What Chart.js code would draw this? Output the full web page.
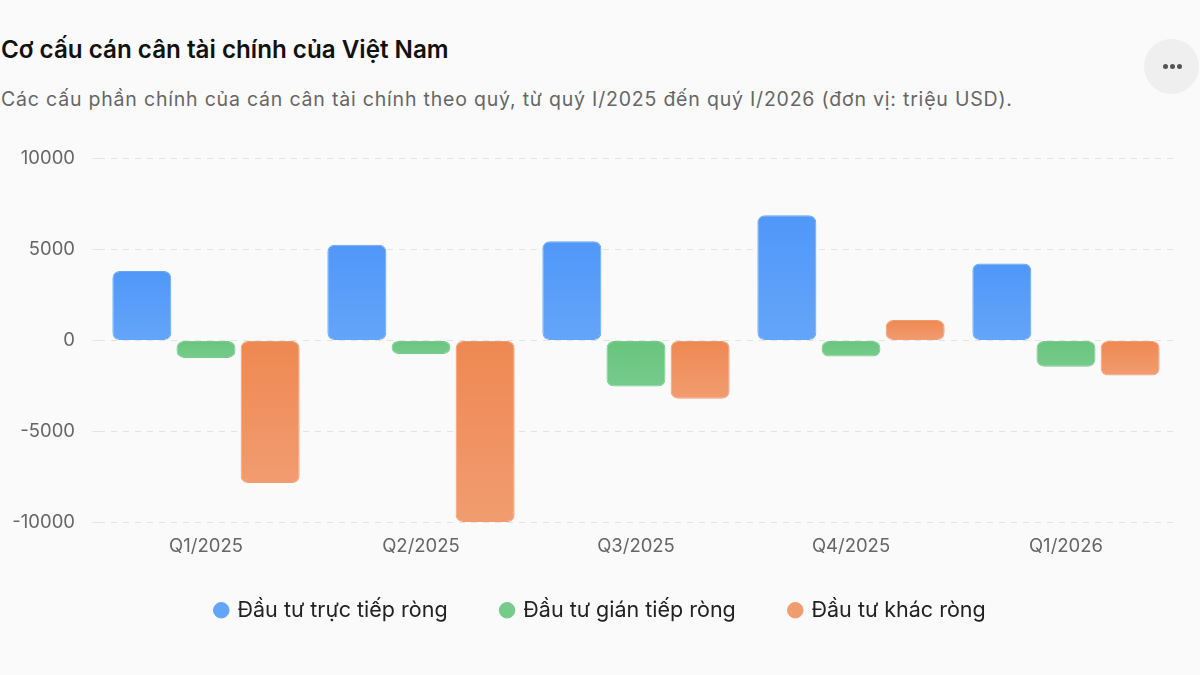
<!DOCTYPE html>
<html>
<head>
<meta charset="utf-8">
<script src="https://cdn.jsdelivr.net/npm/chart.js@4"></script>
<style>
  html, body { margin:0; padding:0; background:#fafafa; width:1200px; height:675px; overflow:hidden; font-family: Inter, "Noto Sans", sans-serif; }
  #title { position:absolute; left:1px; top:35px; font-size:24.2px; font-weight:600; color:#111; white-space:nowrap; }
  #subtitle { position:absolute; left:1px; top:87px; font-size:19.5px; color:#666; letter-spacing:0.8px; white-space:nowrap; }
  #more { position:absolute; left:1144px; top:39px; width:55px; height:55px; border-radius:50%; background:#efefef; }
  #more span { position:absolute; top:25px; width:5px; height:5px; border-radius:50%; background:#555; }
  #wrap { position:absolute; left:0; top:130px; width:1200px; height:526px; }
</style>
</head>
<body>
<div id="title">Cơ cấu cán cân tài chính của Việt Nam</div>
<div id="subtitle">Các cấu phần chính của cán cân tài chính theo quý, từ quý I/2025 đến quý I/2026 (đơn vị: triệu USD).</div>
<div id="more"><span style="left:19px"></span><span style="left:26px"></span><span style="left:33px"></span></div>
<div id="wrap"><canvas id="c"></canvas></div>
<script>
const categories = ["Q1/2025", "Q2/2025", "Q3/2025", "Q4/2025", "Q1/2026"];
const seriesNames = ["Đầu tư trực tiếp ròng", "Đầu tư gián tiếp ròng", "Đầu tư khác ròng"];
const fdiNet = [3820, 5260, 5450, 6880, 4230];
const portfolioNet = [-960, -740, -2530, -880, -1440];
const otherNet = [-7840, -9990, -3200, 1120, -1930];
const yTicks = [-10000, -5000, 0, 5000, 10000];

const colors = [
  ["rgb(80,151,248)", "rgb(99,165,249)"],
  ["rgb(104,197,125)", "rgb(118,203,139)"],
  ["rgb(239,136,82)", "rgb(241,156,112)"]
];

function grad(i) {
  return function(ctx) {
    const chart = ctx.chart;
    const ca = chart.chartArea;
    const ys = chart.scales && chart.scales.y;
    if (!ca || !ys || ctx.type !== "data") return colors[i][0];
    const v = ctx.raw;
    const p1 = ys.getPixelForValue(v), p0 = ys.getPixelForValue(0);
    const top = Math.min(p0, p1), bot = Math.max(p0, p1);
    if (!isFinite(top) || bot - top < 1) return colors[i][0];
    const g = chart.ctx.createLinearGradient(0, top, 0, bot);
    g.addColorStop(0, colors[i][0]);
    g.addColorStop(1, colors[i][1]);
    return g;
  };
}

const dataArrays = [fdiNet, portfolioNet, otherNet];
const datasets = dataArrays.map((d, i) => ({
  label: seriesNames[i],
  data: d,
  backgroundColor: grad(i),
  borderColor: colors[i][1],
  borderWidth: 1,
  borderRadius: 7,
  borderSkipped: false,
  categoryPercentage: 0.895,
  barPercentage: 0.92
}));

const chart = new Chart(document.getElementById("c"), {
  type: "bar",
  data: { labels: categories, datasets },
  options: {
    responsive: true,
    maintainAspectRatio: false,
    animation: false,
    layout: { padding: { left: 0, right: 26.5, top: 2, bottom: 0 } },
    plugins: {
      tooltip: { enabled: false },
      legend: {
        position: "bottom",
        labels: {
          usePointStyle: true,
          pointStyle: "circle",
          boxWidth: 11,
          boxHeight: 11,
          padding: 54,
          color: "#222",
          font: { family: "Inter", size: 21.5 }
        }
      }
    },
    scales: {
      x: {
        grid: { display: false, drawTicks: false },
        border: { display: false },
        ticks: { color: "#666", font: { family: "Inter", size: 18.5 }, padding: 13 }
      },
      y: {
        min: yTicks[0],
        max: yTicks[yTicks.length - 1],
        afterBuildTicks: (axis) => { axis.ticks = yTicks.map(v => ({ value: v })); },
        afterFit: (axis) => { axis.width = 98.5; },
        grid: { color: "#e4e4e4", tickLength: 6, drawTicks: true },
        border: { display: false, dash: [6, 6] },
        ticks: { color: "#666", font: { family: "Inter", size: 18.5 }, padding: 17.5, callback: (v) => String(v) }
      }
    }
  }
});

// shift the legend drawing (item spacing stays wide; centred on the full page width)
if (chart.legend) {
  const origDraw = chart.legend._draw.bind(chart.legend);
  chart.legend._draw = function() {
    this.ctx.save();
    this.ctx.translate(14, -25);
    origDraw();
    this.ctx.restore();
  };
  chart.draw();
}
</script>
</body>
</html>
